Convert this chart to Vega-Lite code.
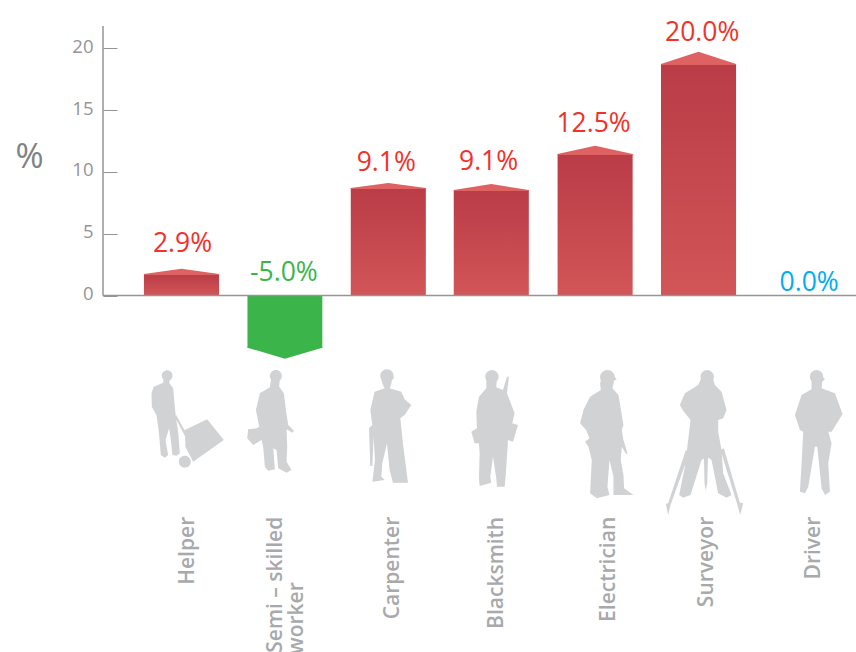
{
"$schema":"https://vega.github.io/schema/vega-lite/v6.json",
"autosize":{"type":"none"},
"padding":{"left":103,"right":0,"top":0,"bottom":0},
"width":753,"height":652,
"background":"white",
"config":{"view":{"stroke":null},"font":"Open Sans"},
"datasets":{
"bars":[
{"job":"Helper","left":-0.363,"right":0.363,"top":1.74,"change":"2.9%","kind":"rise","labelSlot":0.01,"labelAt":4.14},
{"job":"Semi – skilled worker","left":0.638,"right":1.362,"top":-4.22,"change":"-5.0%","kind":"fall","labelSlot":0.99,"labelAt":1.85},
{"job":"Carpenter","left":1.637,"right":2.363,"top":8.7,"change":"9.1%","kind":"rise","labelSlot":1.98,"labelAt":10.72},
{"job":"Blacksmith","left":2.633,"right":3.359,"top":8.54,"change":"9.1%","kind":"rise","labelSlot":2.97,"labelAt":10.82},
{"job":"Electrician","left":3.637,"right":4.363,"top":11.45,"change":"12.5%","kind":"rise","labelSlot":3.985,"labelAt":13.84},
{"job":"Surveyor","left":4.637,"right":5.363,"top":18.73,"change":"20.0%","kind":"rise","labelSlot":5.035,"labelAt":21.25},
{"job":"Driver","left":6,"right":6,"top":0,"change":"0.0%","kind":"flat","labelSlot":6.07,"labelAt":1.05}
],
"roofs":[
{"job":"Helper","kind":"rise","slot":-0.363,"edge":1.74,"base":1.66},
{"job":"Helper","kind":"rise","slot":0,"edge":2.17,"base":1.66},
{"job":"Helper","kind":"rise","slot":0.363,"edge":1.74,"base":1.66},
{"job":"Semi – skilled worker","kind":"fall","slot":0.638,"edge":-4.22,"base":-4.14},
{"job":"Semi – skilled worker","kind":"fall","slot":1,"edge":-5.11,"base":-4.14},
{"job":"Semi – skilled worker","kind":"fall","slot":1.362,"edge":-4.22,"base":-4.14},
{"job":"Carpenter","kind":"rise","slot":1.637,"edge":8.7,"base":8.62},
{"job":"Carpenter","kind":"rise","slot":2,"edge":9.1,"base":8.62},
{"job":"Carpenter","kind":"rise","slot":2.363,"edge":8.7,"base":8.62},
{"job":"Blacksmith","kind":"rise","slot":2.633,"edge":8.54,"base":8.46},
{"job":"Blacksmith","kind":"rise","slot":2.996,"edge":9.02,"base":8.46},
{"job":"Blacksmith","kind":"rise","slot":3.359,"edge":8.54,"base":8.46},
{"job":"Electrician","kind":"rise","slot":3.637,"edge":11.45,"base":11.37},
{"job":"Electrician","kind":"rise","slot":4,"edge":12.12,"base":11.37},
{"job":"Electrician","kind":"rise","slot":4.363,"edge":11.45,"base":11.37},
{"job":"Surveyor","kind":"rise","slot":4.637,"edge":18.73,"base":18.65},
{"job":"Surveyor","kind":"rise","slot":5,"edge":19.72,"base":18.65},
{"job":"Surveyor","kind":"rise","slot":5.363,"edge":18.73,"base":18.65}
],
"icons":[
{"job":"Helper","slot":0,"at":-5.22},
{"job":"Semi – skilled worker","slot":1,"at":-5.22},
{"job":"Carpenter","slot":2,"at":-5.22},
{"job":"Blacksmith","slot":2.996,"at":-5.22},
{"job":"Electrician","slot":4,"at":-5.22},
{"job":"Surveyor","slot":5,"at":-5.22},
{"job":"Driver","slot":6,"at":-5.22}
],
"names":[
{"line":"Helper","slot":0.065,"at":-17.9},
{"line":"Semi – skilled","slot":0.91,"at":-17.9},
{"line":"worker","slot":1.12,"at":-23.2},
{"line":"Carpenter","slot":2.05,"at":-17.9},
{"line":"Blacksmith","slot":3.055,"at":-17.9},
{"line":"Electrician","slot":4.135,"at":-17.9},
{"line":"Surveyor","slot":5.08,"at":-17.9},
{"line":"Driver","slot":6.12,"at":-17.9}
]
},
"resolve":{"scale":{"color":"independent"}},
"layer":[
{"data":{"name":"bars"},"transform":[{"filter":"datum.kind==='rise'"}],
"mark":{"type":"rect","fill":{"gradient":"linear","x1":0,"y1":0,"x2":0,"y2":1,"stops":[{"offset":0,"color":"#b93c47"},{"offset":1,"color":"#d25557"}]}},
"encoding":{
"x":{"field":"left","type":"quantitative","scale":{"domain":[-0.759,6.523],"nice":false,"zero":false},"axis":null},
"x2":{"field":"right"},
"y":{"field":"top","type":"quantitative","scale":{"domain":[-28.84,23.908],"nice":false,"zero":false},
"axis":{"values":[0,5,10,15,20],"grid":false,"domain":false,"tickSize":-14,"tickColor":"#939598","tickWidth":1,"labelColor":"#939598","labelFontSize":18.5,"labelPadding":24,"labelOffset":-2,"labelFont":"Open Sans","title":"%","titleAngle":0,"titleAlign":"center","titleBaseline":"middle","titleX":-74,"titleY":157,"titleFontSize":34,"titleFontWeight":"normal","titleColor":"#808285","titleFont":"Open Sans"}},
"y2":{"datum":0}}},
{"data":{"name":"bars"},"transform":[{"filter":"datum.kind==='fall'"}],
"mark":{"type":"rect","fill":"#3bb54a"},
"encoding":{"x":{"field":"left","type":"quantitative"},"x2":{"field":"right"},"y":{"field":"top","type":"quantitative"},"y2":{"datum":0}}},
{"data":{"name":"roofs"},
"mark":{"type":"area","interpolate":"linear"},
"encoding":{"x":{"field":"slot","type":"quantitative"},"y":{"field":"edge","type":"quantitative"},"y2":{"field":"base"},"detail":{"field":"job"},
"color":{"field":"kind","type":"nominal","scale":{"domain":["rise","fall"],"range":["#dd6261","#3bb54a"]},"legend":null}}},
{"data":{"values":[{"from":-0.759,"to":6.523,"level":0}]},
"mark":{"type":"rule","color":"#939598","strokeWidth":1.5},
"encoding":{"x":{"field":"from","type":"quantitative"},"x2":{"field":"to"},"y":{"field":"level","type":"quantitative"}}},
{"data":{"values":[{"pos":-0.759,"low":0,"high":21.8}]},
"mark":{"type":"rule","color":"#939598","strokeWidth":1.5},
"encoding":{"x":{"field":"pos","type":"quantitative"},"y":{"field":"low","type":"quantitative"},"y2":{"field":"high"}}},
{"data":{"name":"bars"},
"mark":{"type":"text","fontSize":26.5,"font":"Open Sans","baseline":"middle","align":"center"},
"encoding":{"x":{"field":"labelSlot","type":"quantitative"},"y":{"field":"labelAt","type":"quantitative"},"text":{"field":"change"},
"color":{"field":"kind","type":"nominal","scale":{"domain":["rise","fall","flat"],"range":["#f0332a","#3bb54a","#00aeef"]},"legend":null}}},
{"data":{"name":"icons"},
"mark":{"type":"point","filled":true,"opacity":1,"strokeWidth":0,"size":0.4444,"color":"#d1d2d4"},
"encoding":{"x":{"field":"slot","type":"quantitative"},"y":{"field":"at","type":"quantitative"},
"shape":{"field":"job","type":"nominal","legend":null,"scale":{"domain":["Helper","Semi – skilled worker","Carpenter","Blacksmith","Electrician","Surveyor","Driver"],"range":[
"M-59 47A16 16 0 1 1 -27 47A16 16 0 1 1 -59 47ZM-53 50L-33 50L-37 68L-25 85L-21 130L-17 170L-10 215L-5 280L-15 287L-27 285L-32 240L-37 205L-48 240L-40 285L-50 293L-62 285L-68 215L-75 165L-89 140L-90 100L-83 80L-55 68ZM10 210L77 178L127 240L35 305L12 260ZM-20 170L-16 165L20 230L14 235ZM-8 305A18 18 0 1 1 28 305A18 18 0 1 1 -8 305Z",
"M-45 48A18 18 0 1 1 -9 48A18 18 0 1 1 -45 48ZM-40 50L-15 50L-17 80L-3 100L3 150L10 195L27 212L23 218L5 208L7 260L5 305L20 330L5 338L-20 325L-25 270L-35 265L-30 328L-50 332L-60 320L-65 262L-70 240L-95 255L-113 235L-110 208L-85 205L-77 200L-87 150L-75 100L-45 82L-43 65Z",
"M-24 48A20 20 0 1 1 16 48A20 20 0 1 1 -24 48ZM-22 50L21 52L11 57L9 72L4 85L39 95L49 118L69 135L49 165L36 175L44 250L59 368L14 368L4 330L-4 250L-18 310L-21 350L-11 360L-48 365L-46 350L-40 300L-44 230L-48 318L-54 318L-58 205L-48 195L-54 150L-41 95L-11 85L-18 70Z",
"M-18 50A20 20 0 1 1 22 50A20 20 0 1 1 -18 50ZM-14 50L17 50L15 82L35 90L47 50L53 50L47 100L70 160L63 190L80 195L65 245L50 240L47 290L43 350L40 380L17 380L15 355L5 290L-3 350L0 368L-35 378L-37 355L-35 280L-37 250L-50 250L-60 215L-43 205L-45 155L-37 110L-15 85L-15 68Z",
"M15 52A22 22 0 1 1 59 52A22 22 0 1 1 15 52ZM20 50L57 50L65 58L57 62L52 85L70 105L85 195L80 210L85 240L97 280L93 282L80 260L77 300L85 345L87 385L115 405L55 405L55 350L43 300L37 380L43 405L5 415L-15 400L-10 300L-20 260L-30 245L-17 235L-27 210L-45 190L-35 150L-15 110L17 90L15 70Z",
"M6 50A20 20 0 1 1 46 50A20 20 0 1 1 6 50ZM-1 75L10 50L42 50L49 75L69 95L84 150L74 175L59 180L59 215L69 270L74 340L99 405L84 413L59 400L39 300L26 290L9 300L-24 405L-46 413L-58 405L-41 320L-31 240L-24 180L-46 152L-56 135L-41 100ZM-38 270L-28 280L-84 435L-91 465L-98 432L-91 430ZM66 270L76 265L124 428L134 430L125 465L116 432ZM16 280L29 280L26 370L22 392L18 370Z",
"M24 50A20 20 0 1 1 64 50A20 20 0 1 1 24 50ZM28 50L60 48L69 58L61 65L59 85L99 100L122 162L89 215L79 215L89 250L79 310L84 395L69 405L59 385L46 260L39 260L19 380L9 400L-6 395L-1 310L4 215L-6 210L-21 165L-1 105L29 88L29 70Z"
]}}}},
{"data":{"name":"names"},
"mark":{"type":"text","angle":270,"align":"right","baseline":"middle","fontSize":21,"fontWeight":600,"font":"Open Sans","color":"#a7a9ac"},
"encoding":{"x":{"field":"slot","type":"quantitative"},"y":{"field":"at","type":"quantitative"},"text":{"field":"line"}}}
]
}
